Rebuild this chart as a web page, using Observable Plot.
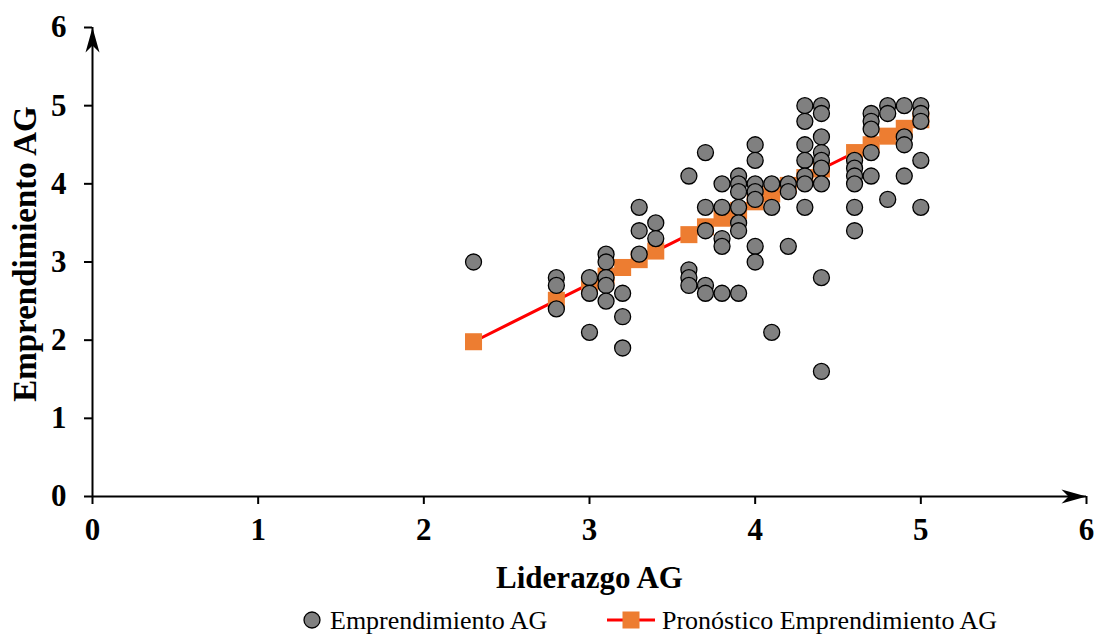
<!DOCTYPE html>
<html><head><meta charset="utf-8">
<script src="https://cdn.jsdelivr.net/npm/d3@7"></script>
<script src="https://cdn.jsdelivr.net/npm/@observablehq/plot@0.6"></script>
<style>
body{margin:0;background:#fff;}
#chart{width:1094px;height:635px;overflow:hidden;}
#chart svg{display:block;}
</style>
</head><body><div id="chart"></div>
<script>
// Observed values: Liderazgo AG (x) and Emprendimiento AG (y)
const liderazgo = [
  2.3,
  2.8, 2.8, 2.8,
  3.0, 3.0, 3.0,
  3.1, 3.1, 3.1, 3.1, 3.1,
  3.2, 3.2, 3.2,
  3.3, 3.3, 3.3,
  3.4, 3.4,
  3.6, 3.6, 3.6, 3.6,
  3.7, 3.7, 3.7, 3.7, 3.7,
  3.8, 3.8, 3.8, 3.8, 3.8,
  3.9, 3.9, 3.9, 3.9, 3.9, 3.9, 3.9,
  4.0, 4.0, 4.0, 4.0, 4.0, 4.0, 4.0,
  4.1, 4.1, 4.1,
  4.2, 4.2, 4.2,
  4.3, 4.3, 4.3, 4.3, 4.3, 4.3, 4.3,
  4.4, 4.4, 4.4, 4.4, 4.4, 4.4, 4.4, 4.4, 4.4,
  4.6, 4.6, 4.6, 4.6, 4.6, 4.6,
  4.7, 4.7, 4.7, 4.7, 4.7,
  4.8, 4.8, 4.8,
  4.9, 4.9, 4.9, 4.9,
  5.0, 5.0, 5.0, 5.0, 5.0
];
const emprendimiento = [
  3.0,
  2.8, 2.7, 2.4,
  2.8, 2.6, 2.1,
  3.1, 3.0, 2.8, 2.7, 2.5,
  2.6, 2.3, 1.9,
  3.7, 3.4, 3.1,
  3.5, 3.3,
  4.1, 2.9, 2.8, 2.7,
  4.4, 3.7, 3.4, 2.7, 2.6,
  4.0, 3.7, 3.3, 3.2, 2.6,
  4.1, 4.0, 3.9, 3.7, 3.5, 3.4, 2.6,
  4.5, 4.3, 4.0, 3.9, 3.8, 3.2, 3.0,
  4.0, 3.7, 2.1,
  4.0, 3.9, 3.2,
  5.0, 4.8, 4.5, 4.3, 4.1, 4.0, 3.7,
  5.0, 4.9, 4.6, 4.4, 4.3, 4.2, 4.0, 2.8, 1.6,
  4.3, 4.2, 4.1, 4.0, 3.7, 3.4,
  4.9, 4.8, 4.7, 4.4, 4.1,
  5.0, 4.9, 3.8,
  5.0, 4.6, 4.5, 4.1,
  5.0, 4.9, 4.8, 4.3, 3.7
];
// Forecast series (read from the orange squares)
const pronosticoX = [2.3, 2.8, 3.0, 3.1, 3.2, 3.3, 3.4, 3.6, 3.7, 3.8, 3.9, 4.0, 4.1, 4.2, 4.3, 4.4, 4.6, 4.7, 4.8, 4.9, 5.0];
const pronosticoY = [1.98, 2.51, 2.72, 2.82, 2.93, 3.03, 3.14, 3.35, 3.45, 3.56, 3.66, 3.77, 3.87, 3.98, 4.08, 4.19, 4.40, 4.50, 4.61, 4.71, 4.82];
const axisTicks = [0, 1, 2, 3, 4, 5, 6];
const xLabel = "Liderazgo AG";
const yLabel = "Emprendimiento AG";
const legendLabels = ["Emprendimiento AG", "Pronóstico Emprendimiento AG"];

const points = liderazgo.map((x, i) => ({x, y: emprendimiento[i]}));
const pron = pronosticoX.map((x, i) => ({x, y: pronosticoY[i]}));

const serif = "'Liberation Serif', 'Times New Roman', Times, serif";

const arrowRight = {draw(ctx) { ctx.moveTo(0, 0); ctx.lineTo(-25, -7); ctx.lineTo(-18, 0); ctx.lineTo(-25, 7); ctx.closePath(); }};
const arrowUp = {draw(ctx) { ctx.moveTo(0, 0); ctx.lineTo(-7, 25); ctx.lineTo(0, 18); ctx.lineTo(7, 25); ctx.closePath(); }};

const plot = Plot.plot({
  width: 1094, height: 600,
  marginLeft: 92, marginRight: 8, marginTop: 27, marginBottom: 104,
  x: {domain: [0, 6]},
  y: {domain: [0, 6]},
  style: {fontFamily: serif, background: "white", color: "black", overflow: "visible"},
  marks: [
    Plot.axisX({ticks: axisTicks, tickSize: 8, tickPadding: 13, fontSize: 31, fontWeight: "bold", strokeWidth: 2, label: null, tickFormat: d => String(d)}),
    Plot.axisY({ticks: axisTicks, tickSize: 8, tickPadding: 18, fontSize: 31, fontWeight: "bold", strokeWidth: 2, label: null, tickFormat: d => String(d)}),
    Plot.ruleY([0], {x1: 0, x2: 6, stroke: "black", strokeWidth: 2}),
    Plot.ruleX([0], {y1: 0, y2: 6, stroke: "black", strokeWidth: 2}),
    Plot.line(pron, {x: "x", y: "y", stroke: "#FF0000", strokeWidth: 3}),
    Plot.dot(pron, {x: "x", y: "y", symbol: "square", r: 9.6, fill: "#ED7D31"}),
    Plot.dot(points, {x: "x", y: "y", r: 8, fill: "#808080", stroke: "black", strokeWidth: 1.3}),
    Plot.dot([[6, 0]], {x: d => d[0], y: d => d[1], symbol: arrowRight, fill: "black"}),
    Plot.dot([[0, 6]], {x: d => d[0], y: d => d[1], symbol: arrowUp, fill: "black"}),
    Plot.text([xLabel], {text: d => d, frameAnchor: "bottom", textAnchor: "middle", lineAnchor: "middle", dy: 82, fontSize: 31, fontWeight: "bold", fill: "black"}),
    Plot.text([yLabel], {text: d => d, frameAnchor: "left", textAnchor: "middle", lineAnchor: "middle", rotate: -90, dx: -67, dy: -8, fontSize: 33, fontWeight: "bold", fill: "black"})
  ]
});
document.getElementById("chart").appendChild(plot);

// Legend below the plot
const leg = d3.create("svg").attr("width", 1094).attr("height", 35)
  .style("font-family", serif).style("display", "block");
leg.append("circle").attr("cx", 312).attr("cy", 20).attr("r", 8)
  .attr("fill", "#808080").attr("stroke", "black").attr("stroke-width", 1.3);
leg.append("text").attr("x", 330).attr("y", 29).attr("font-size", 26).attr("fill", "black").text(legendLabels[0]);
leg.append("line").attr("x1", 607).attr("x2", 655).attr("y1", 20).attr("y2", 20)
  .attr("stroke", "#FF0000").attr("stroke-width", 3);
leg.append("rect").attr("x", 622.5).attr("y", 11.5).attr("width", 17).attr("height", 17).attr("fill", "#ED7D31");
leg.append("text").attr("x", 662).attr("y", 29).attr("font-size", 26).attr("fill", "black").text(legendLabels[1]);
document.getElementById("chart").appendChild(leg.node());
</script>
</body></html>
